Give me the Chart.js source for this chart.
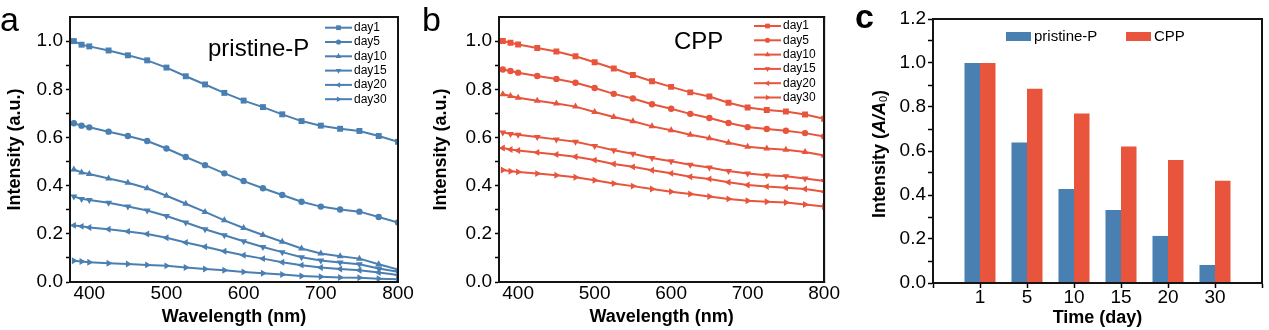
<!DOCTYPE html>
<html>
<head>
<meta charset="utf-8">
<script src="https://cdn.jsdelivr.net/npm/chart.js@4.4.0/dist/chart.umd.min.js"></script>
<style>
  html, body { margin: 0; padding: 0; background: #fff; }
  #wrap { position: relative; width: 1269px; height: 330px; overflow: hidden; }
  canvas { position: absolute; top: 0; }
</style>
</head>
<body>
<div id="wrap">
  <canvas id="chartA" width="420" height="330" style="left:0"></canvas>
  <canvas id="chartB" width="420" height="330" style="left:420px"></canvas>
  <canvas id="chartC" width="429" height="330" style="left:840px"></canvas>
</div>
<script>
// wavelengths sampled in both spectra (nm)
const wavelengths = [380, 390, 400, 425, 450, 475, 500, 525, 550, 575, 600, 625, 650, 675, 700, 725, 750, 775, 800];
const dayLabels = ['day1', 'day5', 'day10', 'day15', 'day20', 'day30'];

// pristine-P spectra
const pristineDay1  = [1.000, 0.985, 0.978, 0.961, 0.941, 0.920, 0.890, 0.854, 0.820, 0.785, 0.753, 0.726, 0.696, 0.668, 0.649, 0.636, 0.627, 0.606, 0.582];
const pristineDay5  = [0.659, 0.649, 0.642, 0.624, 0.606, 0.585, 0.554, 0.519, 0.485, 0.451, 0.419, 0.389, 0.361, 0.333, 0.313, 0.301, 0.292, 0.270, 0.247];
const pristineDay10 = [0.467, 0.455, 0.448, 0.430, 0.412, 0.389, 0.358, 0.325, 0.291, 0.256, 0.224, 0.195, 0.167, 0.139, 0.118, 0.107, 0.097, 0.074, 0.052];
const pristineDay15 = [0.355, 0.345, 0.340, 0.329, 0.313, 0.297, 0.274, 0.247, 0.219, 0.194, 0.169, 0.145, 0.124, 0.103, 0.089, 0.081, 0.074, 0.056, 0.042];
const pristineDay20 = [0.235, 0.231, 0.226, 0.219, 0.210, 0.199, 0.184, 0.164, 0.146, 0.128, 0.111, 0.097, 0.082, 0.070, 0.060, 0.054, 0.049, 0.039, 0.029];
const pristineDay30 = [0.088, 0.085, 0.082, 0.078, 0.075, 0.071, 0.067, 0.060, 0.054, 0.049, 0.042, 0.036, 0.031, 0.025, 0.022, 0.019, 0.018, 0.014, 0.011];

// CPP spectra
const cppDay1  = [1.000, 0.993, 0.986, 0.971, 0.957, 0.937, 0.912, 0.886, 0.859, 0.833, 0.810, 0.787, 0.770, 0.744, 0.724, 0.714, 0.708, 0.695, 0.678];
const cppDay5  = [0.882, 0.876, 0.869, 0.855, 0.843, 0.827, 0.805, 0.781, 0.762, 0.738, 0.719, 0.698, 0.681, 0.660, 0.643, 0.635, 0.628, 0.618, 0.604];
const cppDay10 = [0.779, 0.772, 0.765, 0.752, 0.741, 0.728, 0.706, 0.685, 0.667, 0.646, 0.630, 0.611, 0.597, 0.578, 0.561, 0.554, 0.549, 0.540, 0.525];
const cppDay15 = [0.621, 0.614, 0.611, 0.602, 0.592, 0.582, 0.565, 0.547, 0.532, 0.515, 0.501, 0.487, 0.475, 0.461, 0.450, 0.443, 0.439, 0.430, 0.419];
const cppDay20 = [0.556, 0.550, 0.546, 0.538, 0.529, 0.520, 0.506, 0.490, 0.478, 0.464, 0.451, 0.437, 0.428, 0.414, 0.403, 0.396, 0.391, 0.386, 0.375];
const cppDay30 = [0.465, 0.460, 0.457, 0.450, 0.443, 0.435, 0.422, 0.409, 0.398, 0.386, 0.375, 0.365, 0.355, 0.345, 0.337, 0.333, 0.330, 0.322, 0.313];

// retained intensity per day
const days = ['1', '5', '10', '15', '20', '30'];
const pristineRatio = [1.000, 0.639, 0.427, 0.332, 0.214, 0.082];
const cppRatio      = [1.000, 0.883, 0.770, 0.621, 0.559, 0.465];

// axis ticks (labelled ones, then the unlabelled minor ones)
const wavelengthTicks = [400, 500, 600, 700, 800];
const spectrumTicks = [0, 0.2, 0.4, 0.6, 0.8, 1.0];
const spectrumMinor = [0.1, 0.3, 0.5, 0.7, 0.9];
const ratioTicks = [0, 0.2, 0.4, 0.6, 0.8, 1.0, 1.2];
const ratioMinor = [0.1, 0.3, 0.5, 0.7, 0.9, 1.1];

const BLUE = '#4a7fb1';
const RED = '#e8543c';
const FONT = "'Liberation Sans', Arial, sans-serif";

Chart.defaults.font.family = FONT;
Chart.defaults.color = '#000';

const markers = [
  { style: 'rect', rot: 0, r: 4.2 },
  { style: 'circle', rot: 0, r: 3.2 },
  { style: 'triangle', rot: 0, r: 4 },
  { style: 'triangle', rot: 180, r: 4 },
  { style: 'triangle', rot: -90, r: 4 },
  { style: 'triangle', rot: 90, r: 4 }
];

// major + minor tick list for a y axis, labels only on the major ones
function yTicks(major, minor) {
  return {
    build: s => { s.ticks = major.concat(minor).sort((p, q) => p - q).map(v => ({ value: v })); },
    label: v => major.some(m => Math.abs(m - v) < 1e-9) ? v.toFixed(1) : ''
  };
}

// axis box taken from the scale edges
const frame = {
  id: 'frame',
  afterDraw(chart) {
    const ctx = chart.ctx;
    const x = chart.scales.x;
    const y = chart.scales.y;
    const l = x.left, r = x.right, t = y.top, b = y.bottom;
    ctx.save();
    ctx.fillStyle = 'rgb(20,20,20)';
    ctx.fillRect(l - 1, t - 1, r - l + 2, 2);
    ctx.fillRect(r - 1, t - 1, 2, b - t + 2);
    ctx.fillRect(l - 1, b - 1, r - l + 2, 2);
    ctx.fillRect(l - 1, t - 1, 2, b - t + 2);
    ctx.restore();
  }
};

// free text, inset legends and the rotated rich axis title
const decor = {
  id: 'decor',
  afterDraw(chart, args, opts) {
    const ctx = chart.ctx;
    ctx.save();

    (opts.texts || []).forEach(t => {
      ctx.font = t.font;
      ctx.fillStyle = '#000';
      ctx.textAlign = 'left';
      ctx.textBaseline = 'alphabetic';
      ctx.fillText(t.text, t.x, t.y);
    });

    const L = opts.lineLegend;
    if (L) {
      chart.data.datasets.forEach((ds, i) => {
        const yy = L.y + i * L.gap;
        ctx.fillStyle = ds.borderColor;
        ctx.fillRect(L.x, yy - 1, L.len, 2);
        ctx.fillStyle = ds.pointBackgroundColor;
        Chart.helpers.drawPoint(ctx, {
          pointStyle: ds.pointStyle, rotation: ds.pointRotation || 0,
          radius: ds.pointRadius * 0.8, borderWidth: 0
        }, L.x + L.len / 2, yy);
        ctx.fillStyle = '#000';
        ctx.font = L.font;
        ctx.textAlign = 'left';
        ctx.textBaseline = 'middle';
        ctx.fillText(ds.label, L.x + L.len + 2, yy);
      });
    }

    const B = opts.boxLegend;
    if (B) {
      chart.data.datasets.forEach((ds, i) => {
        const x = B.xs[i];
        ctx.fillStyle = ds.backgroundColor;
        ctx.fillRect(x, B.y - B.h / 2, B.w, B.h);
        ctx.fillStyle = '#000';
        ctx.font = B.font;
        ctx.textAlign = 'left';
        ctx.textBaseline = 'middle';
        ctx.fillText(ds.label, x + B.w + 3, B.y);
      });
    }

    const R = opts.richTitle;
    if (R) {
      ctx.translate(R.x, R.y);
      ctx.rotate(-Math.PI / 2);
      ctx.fillStyle = '#000';
      ctx.textBaseline = 'middle';
      ctx.textAlign = 'left';
      let total = 0;
      R.parts.forEach(p => { ctx.font = p.font; total += ctx.measureText(p.text).width; });
      let x = -total / 2;
      R.parts.forEach(p => {
        ctx.font = p.font;
        ctx.fillText(p.text, x, p.dy || 0);
        x += ctx.measureText(p.text).width;
      });
    }
    ctx.restore();
  }
};

// extra top/right axes that only draw their border line
function edgeAxis(position, size) {
  return {
    type: 'linear', position, min: 0, max: 1,
    afterFit: s => { if (position === 'top') s.height = size; else s.width = size; },
    grid: { display: true, drawOnChartArea: false, drawTicks: false },
    border: { display: true, color: '#000', width: 2 },
    ticks: { display: false }
  };
}

function spectrumChart(id, series, color, yWidth, titlePad, padRight, extra) {
  const datasets = series.map((vals, i) => ({
    label: dayLabels[i],
    data: wavelengths.map((w, j) => ({ x: w, y: vals[j] })),
    borderColor: color,
    backgroundColor: color,
    pointBackgroundColor: color,
    borderWidth: 2,
    pointBorderWidth: 0,
    pointStyle: markers[i].style,
    pointRotation: markers[i].rot,
    pointRadius: markers[i].r,
    tension: 0
  }));
  const yt = yTicks(spectrumTicks, spectrumMinor);
  return new Chart(document.getElementById(id), {
    type: 'line',
    data: { datasets },
    options: {
      responsive: false,
      animation: false,
      layout: { padding: { left: 0, top: 17, right: padRight, bottom: 0 } },
      plugins: {
        legend: { display: false },
        tooltip: { enabled: false },
        decor: extra
      },
      scales: {
        x: {
          type: 'linear', min: 375, max: 800,
          afterBuildTicks: s => { s.ticks = wavelengthTicks.map(v => ({ value: v })); },
          afterFit: s => { s.height = 48; },
          grid: { display: true, drawOnChartArea: false, drawTicks: false },
          border: { display: true, color: '#000', width: 2 },
          ticks: { font: { size: 19 }, padding: 0, autoSkip: false, maxRotation: 0 },
          title: { display: true, text: 'Wavelength (nm)', font: { size: 18, weight: 'bold' }, padding: { top: 0, bottom: 2 } }
        },
        y: {
          min: 0, max: 1.1,
          afterBuildTicks: yt.build,
          afterFit: s => { s.width = yWidth; },
          grid: { drawOnChartArea: false, tickLength: 4, tickWidth: 1.5, tickColor: '#000' },
          border: { display: true, color: '#000', width: 2 },
          ticks: { font: { size: 19 }, padding: 3, autoSkip: false, callback: yt.label },
          title: { display: true, text: 'Intensity (a.u.)', font: { size: 18, weight: 'bold' }, padding: { top: titlePad, bottom: 0 } }
        },
        xTop: edgeAxis('top', 0),
        yRight: edgeAxis('right', 0)
      }
    },
    plugins: [frame, decor]
  });
}

spectrumChart('chartA',
  [pristineDay1, pristineDay5, pristineDay10, pristineDay15, pristineDay20, pristineDay30],
  BLUE, 70, 4, 22, {
    texts: [
      { text: 'a', x: 0, y: 31, font: '34px ' + FONT },
      { text: 'pristine-P', x: 208, y: 56, font: '24px ' + FONT }
    ],
    lineLegend: { x: 325, y: 27.7, gap: 14.3, len: 27, font: '12px ' + FONT }
  });

spectrumChart('chartB',
  [cppDay1, cppDay5, cppDay10, cppDay15, cppDay20, cppDay30],
  RED, 79, 10, 13, {
    texts: [
      { text: 'b', x: 2, y: 31, font: '34px ' + FONT },
      { text: 'CPP', x: 254, y: 49, font: '24px ' + FONT }
    ],
    lineLegend: { x: 334, y: 26, gap: 14.3, len: 27, font: '12px ' + FONT }
  });

// empty slots at both ends keep a full gap around the bar groups
const slotLabels = [''].concat(days, ['']);
const ct = yTicks(ratioTicks, ratioMinor);
new Chart(document.getElementById('chartC'), {
  type: 'bar',
  data: {
    labels: slotLabels,
    datasets: [
      { label: 'pristine-P', data: [null].concat(pristineRatio, [null]), backgroundColor: BLUE,
        borderWidth: 0, barPercentage: 1, categoryPercentage: 0.66 },
      { label: 'CPP', data: [null].concat(cppRatio, [null]), backgroundColor: RED,
        borderWidth: 0, barPercentage: 1, categoryPercentage: 0.66 }
    ]
  },
  options: {
    responsive: false,
    animation: false,
    layout: { padding: { left: 0, top: 19, right: 7, bottom: 0 } },
    plugins: {
      legend: { display: false },
      tooltip: { enabled: false },
      decor: {
        texts: [{ text: 'c', x: 15, y: 28, font: 'bold 34px ' + FONT }],
        boxLegend: { xs: [166, 286], y: 36.5, w: 25, h: 9, font: '15px ' + FONT },
        richTitle: {
          x: 40, y: 154,
          parts: [
            { text: 'Intensity (', font: 'bold 18px ' + FONT },
            { text: 'A/A', font: 'italic bold 18px ' + FONT },
            { text: '0', font: '11px ' + FONT, dy: 4 },
            { text: ')', font: 'bold 18px ' + FONT }
          ]
        }
      }
    },
    scales: {
      x: {
        type: 'category', offset: false,
        afterFit: s => { s.height = 47; },
        grid: { drawOnChartArea: false, offset: false, tickLength: 5, tickWidth: 1.5, tickColor: '#000' },
        border: { display: true, color: '#000', width: 2 },
        ticks: { font: { size: 19 }, padding: -2, autoSkip: false, maxRotation: 0 },
        title: { display: true, text: 'Time (day)', font: { size: 18, weight: 'bold' }, padding: { top: 0, bottom: 1 } }
      },
      y: {
        min: 0, max: 1.2,
        afterBuildTicks: ct.build,
        afterFit: s => { s.width = 93; },
        grid: { drawOnChartArea: false, tickLength: 5, tickWidth: 1.5, tickColor: '#000' },
        border: { display: true, color: '#000', width: 2 },
        ticks: { font: { size: 19 }, padding: 2, autoSkip: false, callback: ct.label },
        title: { display: false }
      },
      xTop: edgeAxis('top', 0),
      yRight: edgeAxis('right', 0)
    }
  },
  plugins: [frame, decor]
});
</script>
</body>
</html>
